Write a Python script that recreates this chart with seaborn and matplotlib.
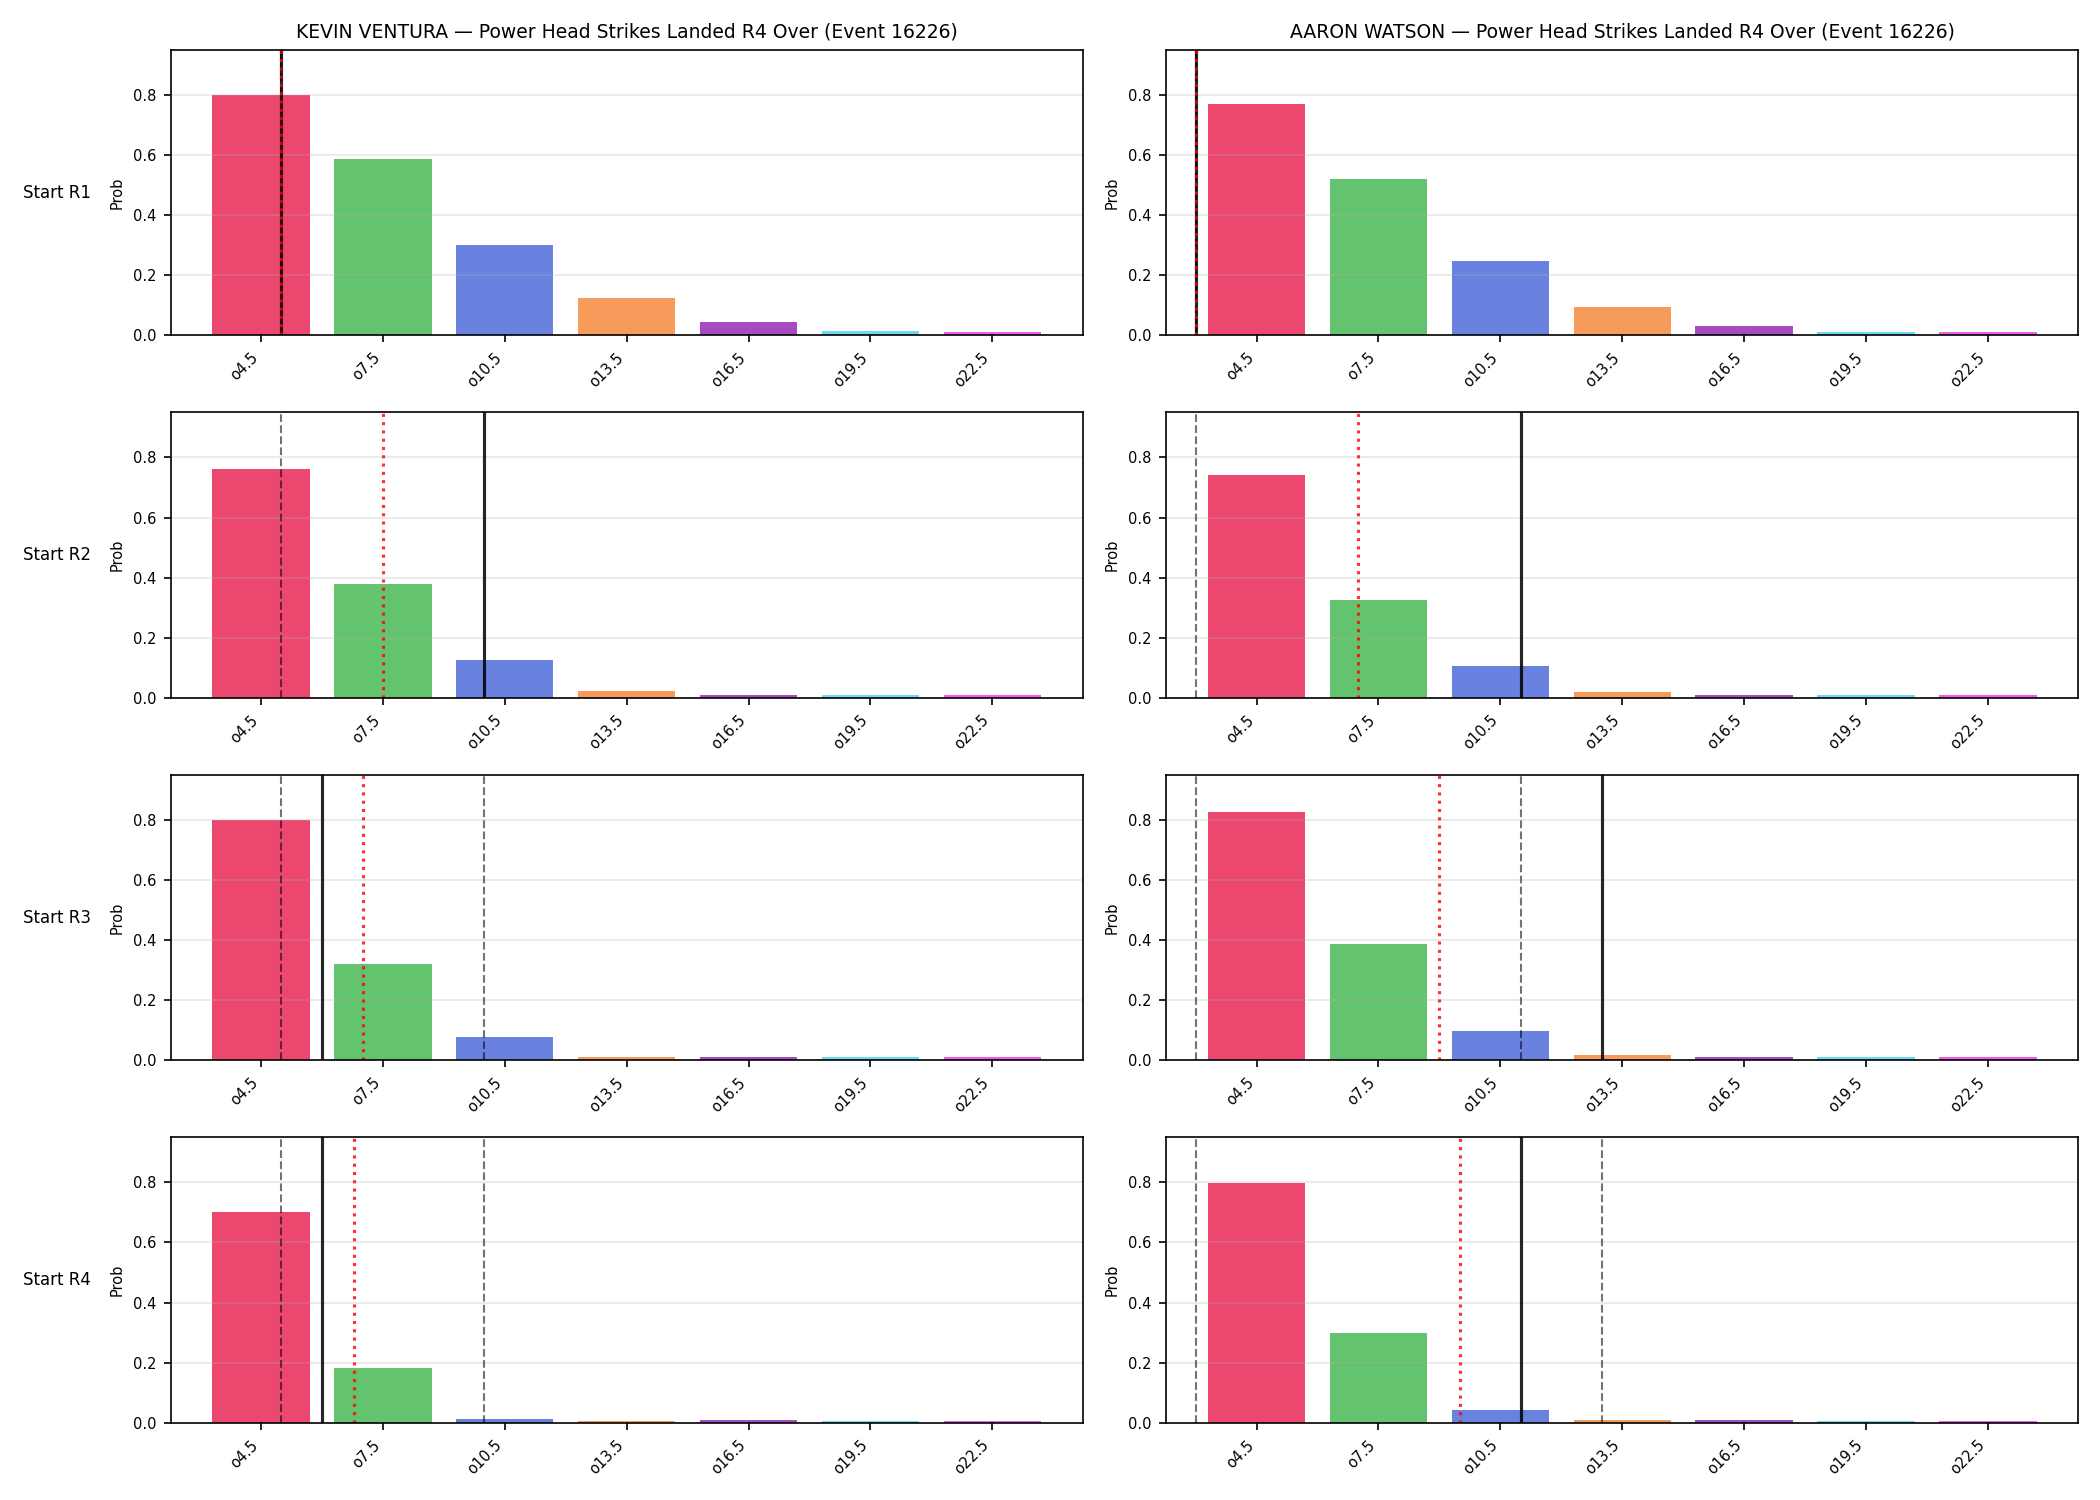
import numpy as np
import seaborn as sns
from matplotlib import pyplot as plt

event_id = 16226
fighters = ["KEVIN VENTURA", "AARON WATSON"]
row_labels = ["Start R1", "Start R2", "Start R3", "Start R4"]
categories = ["o4.5", "o7.5", "o10.5", "o13.5", "o16.5", "o19.5", "o22.5"]
thresholds = [4.5, 7.5, 10.5, 13.5, 16.5, 19.5, 22.5]
bar_colors = ["#e6194b", "#3cb44b", "#4363d8", "#f58231", "#911eb4", "#42d4f4", "#f032e6"]

# P(over) per line, one list per starting round
probs_ventura = [
    [0.800, 0.588, 0.302, 0.126, 0.044, 0.014, 0.011],
    [0.761, 0.380, 0.127, 0.024, 0.009, 0.008, 0.008],
    [0.801, 0.322, 0.078, 0.011, 0.011, 0.011, 0.011],
    [0.700, 0.183, 0.014, 0.006, 0.008, 0.006, 0.006],
]
probs_watson = [
    [0.771, 0.521, 0.249, 0.093, 0.031, 0.011, 0.011],
    [0.741, 0.327, 0.107, 0.021, 0.009, 0.008, 0.008],
    [0.825, 0.388, 0.096, 0.018, 0.011, 0.011, 0.011],
    [0.798, 0.298, 0.044, 0.008, 0.008, 0.006, 0.006],
]

# reference markers, in strike counts
dashed_ventura = [[5.0], [5.0], [5.0, 10.0], [5.0, 10.0]]
proj_ventura = [5.0, 7.5, 7.0, 6.8]
actual_ventura = [5.0, 10.0, 6.0, 6.0]
dashed_watson = [[3.0], [3.0], [3.0, 11.0], [3.0, 13.0]]
proj_watson = [3.0, 7.0, 9.0, 9.5]
actual_watson = [3.0, 11.0, 13.0, 11.0]

probs = [probs_ventura, probs_watson]
dashed = [dashed_ventura, dashed_watson]
proj = [proj_ventura, proj_watson]
actual = [actual_ventura, actual_watson]


def to_pos(v):
    # strike count -> categorical bar position
    return (v - thresholds[0]) / (thresholds[1] - thresholds[0])


fig, axes = plt.subplots(4, 2, figsize=(14, 10), dpi=150)
fig.subplots_adjust(left=0.0813, right=0.9896, top=0.9667, bottom=0.0515,
                    wspace=0.092, hspace=0.27)

n = len(categories)
pad = 0.05 * (n - 1 + 0.8)
for c in range(2):
    for r in range(4):
        ax = axes[r, c]
        sns.barplot(x=categories, y=probs[c][r], hue=categories, palette=bar_colors,
                    saturation=1, alpha=0.8, linewidth=0,
                    width=0.8, legend=False, ax=ax)
        for v in dashed[c][r]:
            ax.axvline(to_pos(v), color="black", linestyle="--", linewidth=1, alpha=0.55)
        ax.axvline(to_pos(actual[c][r]), color="black", linestyle="-", linewidth=1.5, alpha=0.85)
        ax.axvline(to_pos(proj[c][r]), color="red", linestyle=":", linewidth=1.5, alpha=0.8)
        ax.set_xlim(-0.4 - pad, n - 0.6 + pad)
        ax.set_ylim(0, 0.95)
        ax.set_ylabel("Prob", fontsize=7)
        ax.set_xlabel("")
        ax.grid(axis="y", alpha=0.3)
        ax.tick_params(axis="both", labelsize=7)
        plt.setp(ax.get_xticklabels(), rotation=45, ha="right")
        if r == 0:
            ax.set_title(fighters[c] + " — Power Head Strikes Landed R4 Over (Event " + str(event_id) + ")",
                         fontsize=9)
        if c == 0:
            pos = ax.get_position()
            fig.text(0.011, (pos.y0 + pos.y1) / 2, row_labels[r], fontsize=8,
                     ha="left", va="center")

plt.savefig("out.png", dpi=150)
plt.close()
